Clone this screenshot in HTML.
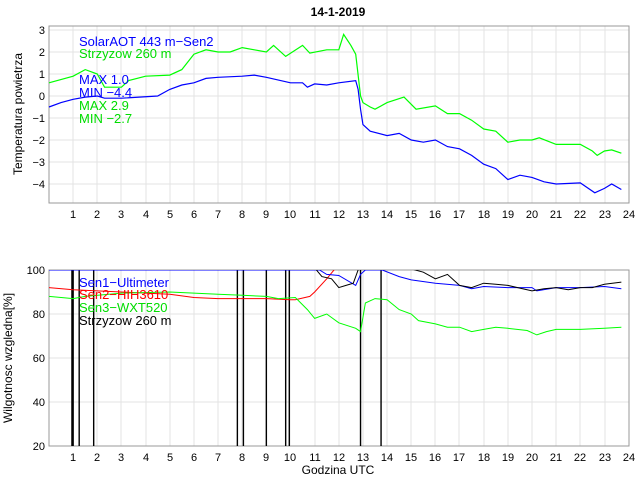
<!DOCTYPE html><html><head><style>body{margin:0;background:#fff}svg{font-family:"Liberation Sans",sans-serif}</style></head><body>
<svg width="640" height="480" viewBox="0 0 640 480">
<rect width="640" height="480" fill="#fff"/>
<text x="338" y="16" font-size="12" font-weight="bold" text-anchor="middle">14-1-2019</text>
<g stroke="#e3e3e3" stroke-width="1">
<path d="M73,26V203M97,26V203M121,26V203M146,26V203M170,26V203M194,26V203M218,26V203M242,26V203M266,26V203M290,26V203M315,26V203M339,26V203M363,26V203M387,26V203M411,26V203M435,26V203M459,26V203M484,26V203M508,26V203M532,26V203M556,26V203M580,26V203M605,26V203"/>
<path d="M49,30H629M49,52H629M49,74H629M49,96H629M49,118H629M49,140H629M49,162H629M49,184H629"/>
<path d="M73,270V446M97,270V446M121,270V446M146,270V446M170,270V446M194,270V446M218,270V446M242,270V446M266,270V446M290,270V446M315,270V446M339,270V446M363,270V446M387,270V446M411,270V446M435,270V446M459,270V446M484,270V446M508,270V446M532,270V446M556,270V446M580,270V446M605,270V446"/>
<path d="M49,314H629M49,358H629M49,402H629"/>
</g>
<rect x="49" y="26" width="580" height="177" fill="none" stroke="#999"/>
<rect x="49" y="270" width="580" height="176" fill="none" stroke="#999"/>
<g font-size="11" text-anchor="middle">
<text x="73" y="218">1</text><text x="97" y="218">2</text><text x="121" y="218">3</text><text x="146" y="218">4</text><text x="170" y="218">5</text><text x="194" y="218">6</text><text x="218" y="218">7</text><text x="242" y="218">8</text><text x="266" y="218">9</text><text x="290" y="218">10</text><text x="315" y="218">11</text><text x="339" y="218">12</text><text x="363" y="218">13</text><text x="387" y="218">14</text><text x="411" y="218">15</text><text x="435" y="218">16</text><text x="459" y="218">17</text><text x="484" y="218">18</text><text x="508" y="218">19</text><text x="532" y="218">20</text><text x="556" y="218">21</text><text x="580" y="218">22</text><text x="605" y="218">23</text><text x="629" y="218">24</text>
<text x="73" y="461">1</text><text x="97" y="461">2</text><text x="121" y="461">3</text><text x="146" y="461">4</text><text x="170" y="461">5</text><text x="194" y="461">6</text><text x="218" y="461">7</text><text x="242" y="461">8</text><text x="266" y="461">9</text><text x="290" y="461">10</text><text x="315" y="461">11</text><text x="339" y="461">12</text><text x="363" y="461">13</text><text x="387" y="461">14</text><text x="411" y="461">15</text><text x="435" y="461">16</text><text x="459" y="461">17</text><text x="484" y="461">18</text><text x="508" y="461">19</text><text x="532" y="461">20</text><text x="556" y="461">21</text><text x="580" y="461">22</text><text x="605" y="461">23</text><text x="629" y="461">24</text>
</g>
<g font-size="11" text-anchor="end">
<text x="45" y="34">3</text><text x="45" y="56">2</text><text x="45" y="78">1</text><text x="45" y="100">0</text><text x="45" y="122">−1</text><text x="45" y="144">−2</text><text x="45" y="166">−3</text><text x="45" y="188">−4</text>
<text x="45" y="274">100</text><text x="45" y="318">80</text><text x="45" y="362">60</text><text x="45" y="406">40</text><text x="45" y="450">20</text>
</g>
<text transform="translate(22,114) rotate(-90)" font-size="12" text-anchor="middle">Temperatura powietrza</text>
<text transform="translate(12,358) rotate(-90)" font-size="12" text-anchor="middle">Wilgotnosc wzgledna[%]</text>
<text x="338" y="474" font-size="12" text-anchor="middle">Godzina UTC</text>
<g transform="translate(49,96) scale(24.15,-22)" fill="none" stroke-width="1.2">
<polyline vector-effect="non-scaling-stroke" stroke="#0000ff" points="0,-0.5 0.5,-0.3 1,-0.15 1.5,-0.05 2,0 2.3,-0.1 3,-0.1 4.5,0 5,0.3 5.5,0.5 6,0.6 6.5,0.8 7,0.85 8,0.9 8.5,0.95 9,0.85 10,0.6 10.5,0.6 10.7,0.4 11,0.55 11.5,0.5 12,0.6 12.7,0.7 12.8,0.3 12.9,-0.6 13,-1.3 13.3,-1.6 14,-1.8 14.5,-1.7 15,-2.0 15.5,-2.1 16,-2.0 16.5,-2.3 17,-2.4 17.5,-2.7 18,-3.1 18.5,-3.3 19,-3.8 19.5,-3.6 20,-3.7 20.5,-3.9 21,-4.0 22,-3.95 22.6,-4.4 23,-4.2 23.3,-4.0 23.7,-4.25"/>
<polyline vector-effect="non-scaling-stroke" stroke="#00ff00" points="0,0.6 1,0.9 1.5,1.2 2,1.0 2.3,0.4 3,0.4 3.3,0.7 4,0.9 5,0.95 5.5,1.2 6,1.9 6.5,2.1 7,2.0 7.5,2.0 8,2.2 8.5,2.1 9,2.0 9.3,2.3 9.8,1.8 10.5,2.3 10.8,1.95 11.5,2.1 12,2.1 12.2,2.8 12.5,2.3 12.7,1.9 12.9,0 13,-0.3 13.3,-0.5 13.5,-0.6 14,-0.3 14.7,-0.05 15.2,-0.6 16,-0.45 16.5,-0.8 17,-0.8 17.5,-1.1 18,-1.5 18.5,-1.6 19,-2.1 19.5,-2.0 20,-2.0 20.3,-1.9 21,-2.2 22,-2.2 22.5,-2.5 22.7,-2.7 23,-2.5 23.3,-2.45 23.7,-2.6"/>
</g>
<g font-size="13">
<text x="79" y="46" fill="#0000ff">SolarAOT 443 m−Sen2</text>
<text x="79" y="58" fill="#00dd00">Strzyzow 260 m</text>
<text x="79" y="84" fill="#0000ff">MAX 1.0</text>
<text x="79" y="97" fill="#0000ff">MIN −4.4</text>
<text x="79" y="110" fill="#00dd00">MAX 2.9</text>
<text x="79" y="123" fill="#00dd00">MIN −2.7</text>
</g>
<svg x="49" y="270" width="580" height="176" viewBox="49 270 580 176">
<g transform="translate(49,490) scale(24.15,-2.2)" fill="none">
<path vector-effect="non-scaling-stroke" stroke="#000" stroke-width="1.4" d="M0.95,0V100M1.0,0V100M1.25,0V100M1.85,0V100M7.8,0V100M8.05,0V100M9.0,0V100M9.8,0V100M9.95,0V100M12.9,0V100M13.75,0V100"/>
<polyline vector-effect="non-scaling-stroke" stroke="#ff0000" points="0,92 1,91 3,90 5,89 6,87.5 7,87 9,87 10,86.5 10.2,86.5 10.8,88 11,90 11.5,96 11.8,100 12.2,104"/>
<polyline vector-effect="non-scaling-stroke" stroke="#00ff00" points="0,88 1,87 1.5,88 3,89.5 5,90 6,89.5 7,89 8,88.5 9,88 9.5,87 10.2,87.5 10.7,82 11,78 11.5,80 12,76 12.7,73.5 12.9,72 13.1,85 13.5,87 14,86.5 14.5,82 15,80 15.3,77 16,75.5 16.5,74 17,74 17.5,72 18,73 18.5,74 19,73.5 19.8,72.5 20.2,70.5 20.6,72 21,73 22,73 23,73.5 23.7,74"/>
<polyline vector-effect="non-scaling-stroke" stroke="#0000ff" points="0,100 11.2,100 11.5,98 12,97.5 12.7,93 12.9,98 13.1,100 13.8,100 14.5,97 15,95.5 16,94 17,93 17.5,91.5 18,92.5 19,92 20,92 20.2,90.5 21,92 22,92 23,92.5 23.7,91.5"/>
<polyline vector-effect="non-scaling-stroke" stroke="#000" points="11,101 11.3,97 11.7,96 12,92 12.3,93 12.6,94 12.8,100 13,103"/>
<polyline vector-effect="non-scaling-stroke" stroke="#000" points="15,100.5 15.5,99 16,96 16.5,98 17,93 17.5,92 18,94 18.5,93.5 19,93 20,90.5 20.5,91.5 21,92 21.5,91 22,92 22.5,92 23,93.5 23.7,94.5"/>
</g>
</svg>
<g font-size="13">
<text x="79" y="287" fill="#0000ff">Sen1−Ultimeter</text>
<text x="79" y="299" fill="#ff0000">Sen2−HIH3610</text>
<text x="79" y="312" fill="#00dd00">Sen3−WXT520</text>
<text x="79" y="325" fill="#000">Strzyzow 260 m</text>
</g>
</svg>
</body></html>
